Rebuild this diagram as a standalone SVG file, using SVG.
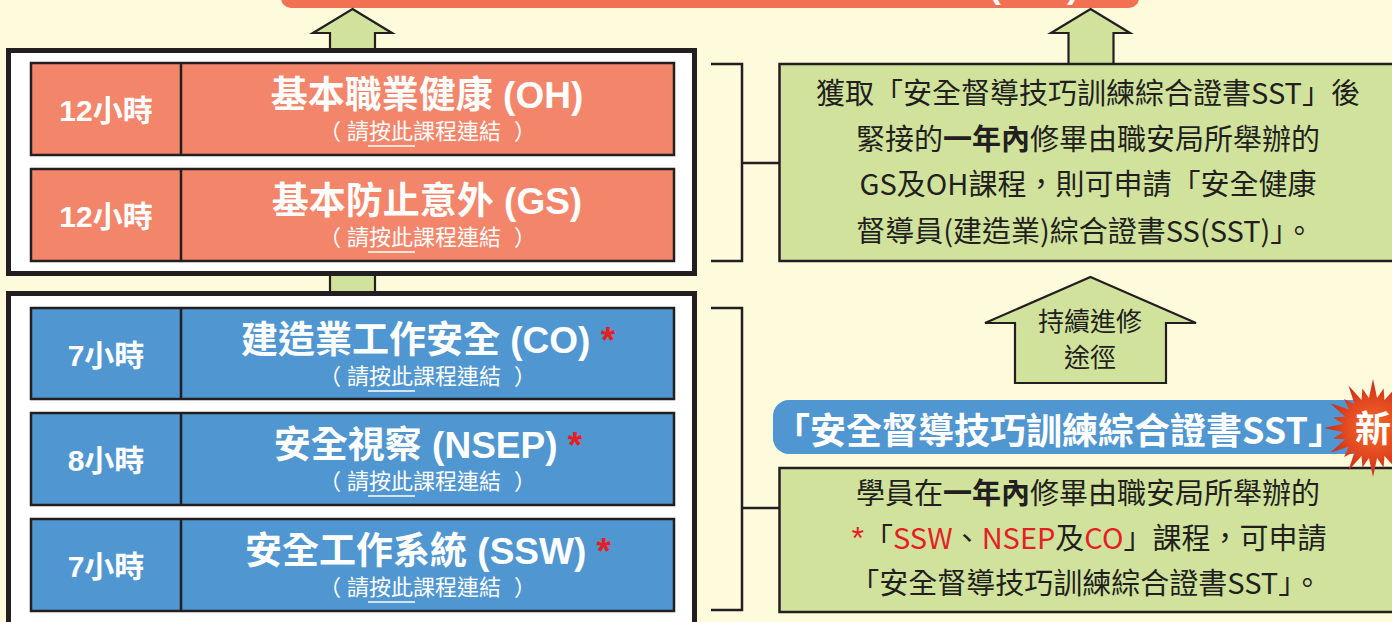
<svg xmlns="http://www.w3.org/2000/svg" width="1392" height="622" viewBox="0 0 1392 622">
<defs>
<style>
.bg{fill:#FEFADC}
.frame{fill:#FFFFFF;stroke:#231F20;stroke-width:5}
.row{stroke:#231F20;stroke-width:2.5}
.or{fill:#F3866A}
.bl{fill:#5096D0}
.div{stroke:#231F20;stroke-width:2.5}
.hrs{font-family:"Liberation Sans","Noto Sans CJK TC",sans-serif;font-weight:bold;font-size:30px;fill:#FFFFFF;text-anchor:middle}
.ttl{font-family:"Liberation Sans","Noto Sans CJK TC",sans-serif;font-weight:bold;font-size:37px;fill:#FFFFFF;text-anchor:middle}
.sub{font-family:"Noto Sans CJK TC",sans-serif;font-size:22px;fill:#FFFFFF}
.ul{stroke:#FFFFFF;stroke-width:1.6}
.ast{fill:#E61E25}
.green{fill:#D0E29C;stroke:#231F20;stroke-width:2.5}
.body{font-family:"Noto Sans CJK TC","Liberation Sans",sans-serif;font-size:29px;fill:#231F20;text-anchor:middle}
.b{font-weight:bold}
.red{fill:#E61E25}
.star{font-family:"Liberation Sans",sans-serif;font-size:32px}
.arrow{fill:#D0E29C;stroke:#231F20;stroke-width:2.2;stroke-linejoin:miter}
.brk{fill:none;stroke:#231F20;stroke-width:2.5}
</style>
<radialGradient id="burst" gradientUnits="userSpaceOnUse" cx="0" cy="0" r="48">
<stop offset="0" stop-color="#F26A2C"/>
<stop offset="0.6" stop-color="#E2481F"/>
<stop offset="1" stop-color="#C92A18"/>
</radialGradient>
<polygon id="spikeL" points="0,-49 4.5,-28 -4.5,-28" fill="url(#burst)"/>
<polygon id="spikeS" points="0,-41 4.5,-28 -4.5,-28" fill="url(#burst)"/>
</defs>

<rect class="bg" x="0" y="0" width="1392" height="622"/>

<g id="top-banner">
<rect x="281" y="-30" width="858" height="38" rx="10" fill="#F37153"/>
<text x="1034" y="-2" font-family="Liberation Sans,sans-serif" font-weight="bold" font-size="34" fill="#FFFFFF" text-anchor="middle">(SST)</text>
</g>

<g id="connectors">
<polygon class="arrow" points="352.5,9 392,33 375,33 375,49 330,49 330,33 313,33"/>
<polygon class="arrow" points="1090.5,9 1130,33 1113.5,33 1113.5,64 1068.5,64 1068.5,33 1051,33"/>
<rect class="arrow" x="330" y="272" width="45" height="24"/>
<path class="brk" d="M711,64 H742 V261 H711 M742,163 H779"/>
<path class="brk" d="M711,308 H742 V610 H711 M742,508 H779"/>
</g>

<g id="frame-basic">
<rect class="frame" x="8.5" y="50.5" width="686" height="223"/>
</g>
<g id="frame-sst">
<rect class="frame" x="8.5" y="293.5" width="686" height="360"/>
</g>

<g id="row-oh">
<rect class="row or" x="31" y="63" width="643" height="92"/>
<line class="div" x1="181" y1="63" x2="181" y2="155"/>
<text class="hrs" x="106" y="121">12小時</text>
<text class="ttl" x="427" y="108">基本職業健康 (OH)</text>
<text class="sub" y="139"><tspan x="319">（</tspan><tspan x="347">請按此課程連結</tspan><tspan x="514">）</tspan></text>
<line class="ul" x1="368" y1="146" x2="415" y2="146"/>
</g>

<g id="row-gs">
<rect class="row or" x="31" y="169" width="643" height="92"/>
<line class="div" x1="181" y1="169" x2="181" y2="261"/>
<text class="hrs" x="106" y="227">12小時</text>
<text class="ttl" x="427" y="214">基本防止意外 (GS)</text>
<text class="sub" y="245"><tspan x="319">（</tspan><tspan x="347">請按此課程連結</tspan><tspan x="514">）</tspan></text>
<line class="ul" x1="368" y1="252" x2="415" y2="252"/>
</g>

<g id="row-co">
<rect class="row bl" x="31" y="308" width="643" height="91"/>
<line class="div" x1="181" y1="308" x2="181" y2="399"/>
<text class="hrs" x="106" y="366">7小時</text>
<text class="ttl" x="428" y="353">建造業工作安全 (CO)<tspan class="ast"> *</tspan></text>
<text class="sub" y="384"><tspan x="319">（</tspan><tspan x="347">請按此課程連結</tspan><tspan x="514">）</tspan></text>
<line class="ul" x1="368" y1="391" x2="415" y2="391"/>
</g>

<g id="row-nsep">
<rect class="row bl" x="31" y="413" width="643" height="92"/>
<line class="div" x1="181" y1="413" x2="181" y2="505"/>
<text class="hrs" x="106" y="471">8小時</text>
<text class="ttl" x="428" y="458">安全視察 (NSEP)<tspan class="ast"> *</tspan></text>
<text class="sub" y="489"><tspan x="319">（</tspan><tspan x="347">請按此課程連結</tspan><tspan x="514">）</tspan></text>
<line class="ul" x1="368" y1="496" x2="415" y2="496"/>
</g>

<g id="row-ssw">
<rect class="row bl" x="31" y="519" width="643" height="92"/>
<line class="div" x1="181" y1="519" x2="181" y2="611"/>
<text class="hrs" x="106" y="577">7小時</text>
<text class="ttl" x="428" y="564">安全工作系統 (SSW)<tspan class="ast"> *</tspan></text>
<text class="sub" y="595"><tspan x="319">（</tspan><tspan x="347">請按此課程連結</tspan><tspan x="514">）</tspan></text>
<line class="ul" x1="368" y1="602" x2="415" y2="602"/>
</g>

<g id="box-ss">
<rect class="green" x="779.5" y="64" width="700" height="197"/>
<text class="body" x="1088" y="104">獲取「安全督導技巧訓練綜合證書SST」後</text>
<text class="body" x="1088" y="150">緊接的<tspan class="b">一年內</tspan>修畢由職安局所舉辦的</text>
<text class="body" x="1088" y="195">GS及OH課程，則可申請「安全健康</text>
<text class="body" x="1085" y="242">督導員(建造業)綜合證書SS(SST)」。</text>
</g>

<g id="path-arrow">
<polygon class="arrow" points="1090.5,277 1196,323 1166,323 1166,383 1015,383 1015,323 985,323"/>
<text class="body" x="1090" y="331" style="font-size:26px">持續進修</text>
<text class="body" x="1090" y="367" style="font-size:26px">途徑</text>
</g>

<g id="box-sst">
<rect class="green" x="779.5" y="468" width="700" height="144"/>
<text class="body" x="1088" y="504">學員在<tspan class="b">一年內</tspan>修畢由職安局所舉辦的</text>
<text class="body" x="1089" y="549"><tspan class="red star">*</tspan>「<tspan class="red">SSW</tspan>、<tspan class="red">NSEP</tspan>及<tspan class="red">CO</tspan>」課程，可申請</text>
<text class="body" x="1086" y="594">「安全督導技巧訓練綜合證書SST」。</text>
</g>

<g id="sst-title">
<rect x="773" y="400" width="640" height="54" rx="16" fill="#5096D0"/>
<text x="792" y="444" font-family="Noto Sans CJK TC,sans-serif" font-weight="bold" font-size="36" fill="#FFFFFF" style="font-feature-settings:'halt'">「安全督導技巧訓練綜合證書SST」</text>
</g>

<g id="new-badge" transform="translate(1373,428)">
<circle r="30" fill="url(#burst)"/>
<use href="#spikeL" transform="rotate(0)"/>
<use href="#spikeS" transform="rotate(15)"/>
<use href="#spikeL" transform="rotate(30)"/>
<use href="#spikeS" transform="rotate(45)"/>
<use href="#spikeL" transform="rotate(60)"/>
<use href="#spikeS" transform="rotate(75)"/>
<use href="#spikeL" transform="rotate(90)"/>
<use href="#spikeS" transform="rotate(105)"/>
<use href="#spikeL" transform="rotate(120)"/>
<use href="#spikeS" transform="rotate(135)"/>
<use href="#spikeL" transform="rotate(150)"/>
<use href="#spikeS" transform="rotate(165)"/>
<use href="#spikeL" transform="rotate(180)"/>
<use href="#spikeS" transform="rotate(195)"/>
<use href="#spikeL" transform="rotate(210)"/>
<use href="#spikeS" transform="rotate(225)"/>
<use href="#spikeL" transform="rotate(240)"/>
<use href="#spikeS" transform="rotate(255)"/>
<use href="#spikeL" transform="rotate(270)"/>
<use href="#spikeS" transform="rotate(285)"/>
<use href="#spikeL" transform="rotate(300)"/>
<use href="#spikeS" transform="rotate(315)"/>
<use href="#spikeL" transform="rotate(330)"/>
<use href="#spikeS" transform="rotate(345)"/>
<text x="0" y="14" font-family="Noto Sans CJK TC,sans-serif" font-weight="bold" font-size="36" fill="#FFFFFF" text-anchor="middle">新</text>
</g>
</svg>
